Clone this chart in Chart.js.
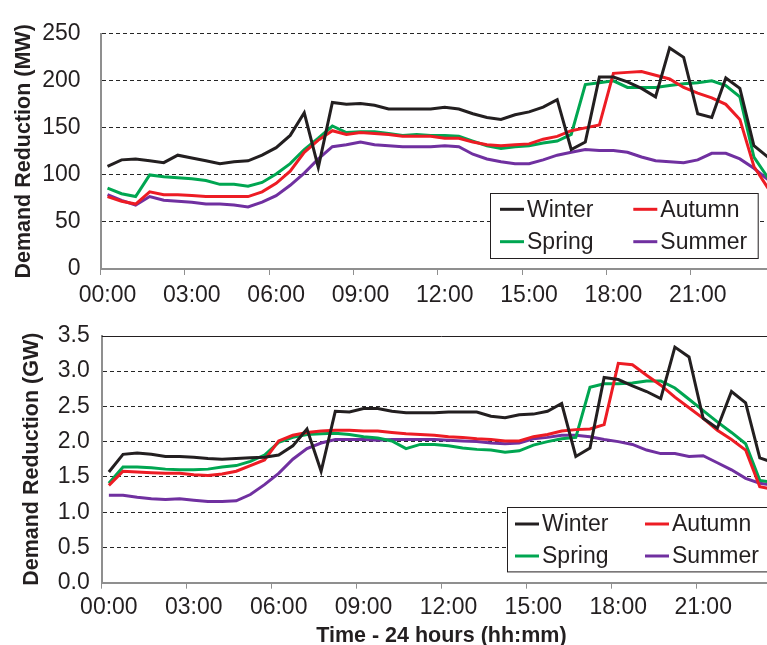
<!DOCTYPE html>
<html>
<head>
<meta charset="utf-8">
<script src="https://cdn.jsdelivr.net/npm/chart.js@4.4.1/dist/chart.umd.min.js"></script>
<style>
  html, body { margin: 0; padding: 0; background: #fff; overflow: hidden; width: 767px; height: 645px; }
  canvas { position: absolute; left: 0; }
  #topChart { top: 0; }
  #bottomChart { top: 310px; }
</style>
</head>
<body>
<canvas id="topChart" width="775" height="310"></canvas>
<canvas id="bottomChart" width="781" height="340"></canvas>
<script>
// half-hour slots of the day
const timeSlots = [
  '00:00','00:30','01:00','01:30','02:00','02:30','03:00','03:30','04:00','04:30','05:00','05:30',
  '06:00','06:30','07:00','07:30','08:00','08:30','09:00','09:30','10:00','10:30','11:00','11:30',
  '12:00','12:30','13:00','13:30','14:00','14:30','15:00','15:30','16:00','16:30','17:00','17:30',
  '18:00','18:30','19:00','19:30','20:00','20:30','21:00','21:30','22:00','22:30','23:00','23:30'
];
const seasons = ['Winter', 'Autumn', 'Spring', 'Summer'];
const seasonColors = ['#231f20', '#ed1c24', '#00a651', '#7030a0'];

// top panel, MW
const winterMW = [109,116,117,115,113,121,118,115,112,114,115,121,129,142,166,108,177,175,176,174,170,170,170,170,
                  172,170,165,161,159,164,167,172,180,127,135,204,204,199,192,183,235,225,165,161,203,192,131,119];
const autumnMW = [77,72,69,82,79,79,78,77,77,77,77,82,91,104,124,137,147,143,145,144,143,141,141,141,
                  139,139,135,132,131,132,133,138,141,147,150,153,208,209,210,206,202,193,187,182,175,159,109,86];
const springMW = [86,80,77,100,98,97,96,94,90,90,88,92,101,112,127,139,152,145,146,146,144,142,143,142,
                  142,141,136,131,128,130,131,134,136,143,196,198,200,193,193,193,195,197,198,200,195,183,119,97];
const summerMW = [79,73,68,77,73,72,71,69,69,68,66,71,78,89,102,117,130,132,135,132,131,130,130,130,
                  131,130,122,117,114,112,112,116,121,124,127,126,126,124,119,115,114,113,116,123,123,117,107,95];

// bottom panel, GW
const winterGW = [1.57,1.82,1.84,1.82,1.79,1.79,1.78,1.76,1.75,1.76,1.77,1.78,1.81,1.94,2.18,1.58,2.43,2.42,2.47,2.47,2.43,2.41,2.41,2.41,
                  2.42,2.42,2.42,2.36,2.34,2.38,2.39,2.43,2.54,1.79,1.91,2.91,2.88,2.79,2.71,2.61,3.34,3.20,2.33,2.19,2.71,2.55,1.77,1.70];
const autumnGW = [1.38,1.58,1.57,1.56,1.55,1.55,1.53,1.52,1.54,1.58,1.66,1.74,2.01,2.09,2.13,2.15,2.16,2.16,2.15,2.15,2.13,2.11,2.10,2.09,
                  2.07,2.06,2.04,2.03,2.01,2.01,2.07,2.10,2.15,2.17,2.18,2.24,3.11,3.09,2.94,2.80,2.63,2.48,2.33,2.16,2.03,1.88,1.36,1.32];
const springGW = [1.41,1.64,1.64,1.63,1.61,1.60,1.60,1.61,1.64,1.66,1.72,1.81,1.99,2.06,2.10,2.11,2.12,2.10,2.07,2.05,2.01,1.90,1.96,1.96,
                  1.94,1.91,1.89,1.88,1.85,1.87,1.95,2.00,2.04,2.06,2.77,2.82,2.82,2.83,2.86,2.86,2.76,2.60,2.44,2.28,2.13,1.97,1.45,1.42];
const summerGW = [1.24,1.24,1.21,1.19,1.18,1.19,1.17,1.15,1.15,1.16,1.25,1.39,1.55,1.75,1.90,1.98,2.03,2.03,2.03,2.02,2.03,2.03,2.03,2.03,
                  2.02,2.01,2.00,1.98,1.97,1.98,2.04,2.06,2.09,2.09,2.07,2.03,2.00,1.96,1.88,1.83,1.83,1.79,1.80,1.70,1.60,1.48,1.41,1.38];

const mwTicks = { min: 0, max: 250, step: 50 };
const gwTicks = { min: 0, max: 3.5, step: 0.5 };

Chart.defaults.font.family = '"Liberation Sans", Arial, sans-serif';
Chart.defaults.color = '#231f20';

const TEXT = '#231f20';
const AXIS_GREY = '#8f8f8f';
const GRID_DASH = [4, 3];

// legend drawn as a framed box inside the plot
const boxLegend = {
  id: 'boxLegend',
  afterDatasetsDraw(chart, args, o) {
    const ctx = chart.ctx, area = chart.chartArea;
    const x0 = area.left + o.dx, y0 = area.bottom - o.dy;
    ctx.save();
    ctx.fillStyle = '#fff';
    ctx.fillRect(x0, y0, o.w, o.h);
    ctx.strokeStyle = TEXT;
    ctx.lineWidth = 1;
    ctx.strokeRect(Math.round(x0) + 0.5, Math.round(y0) + 0.5, o.w, o.h);
    ctx.font = '23px "Liberation Sans", Arial, sans-serif';
    ctx.textBaseline = 'middle';
    chart.data.datasets.forEach((ds, i) => {
      const lx = x0 + o.pad + (i % 2) * o.colW;
      const ly = y0 + o.rows[Math.floor(i / 2)];
      ctx.strokeStyle = ds.borderColor;
      ctx.lineWidth = 3;
      ctx.beginPath();
      ctx.moveTo(lx, ly);
      ctx.lineTo(lx + 24, ly);
      ctx.stroke();
      ctx.fillStyle = TEXT;
      ctx.fillText(ds.label, lx + 27, ly + 1);
    });
    ctx.restore();
  }
};

// solid frame line along the top of the plot (bottom panel only)
const topFrame = {
  id: 'topFrame',
  beforeDatasetsDraw(chart, args, o) {
    if (!o.show) return;
    const ctx = chart.ctx, y = chart.scales.y;
    const py = Math.round(y.getPixelForValue(y.max)) + 0.5;
    ctx.save();
    ctx.setLineDash([]);
    ctx.strokeStyle = TEXT;
    ctx.lineWidth = 1;
    ctx.beginPath();
    ctx.moveTo(chart.chartArea.left, py);
    ctx.lineTo(chart.chartArea.right, py);
    ctx.stroke();
    ctx.restore();
  }
};

function makePanel(id, series, yt, opts) {
  return new Chart(document.getElementById(id), {
    type: 'line',
    data: {
      labels: timeSlots,
      datasets: series.map((d, i) => ({
        label: seasons[i],
        data: d,
        borderColor: seasonColors[i],
        backgroundColor: seasonColors[i],
        borderWidth: 3,
        pointRadius: 0,
        tension: 0,
        fill: false
      }))
    },
    options: {
      responsive: false,
      animation: false,
      events: [],
      layout: { padding: { top: opts.padTop, left: 0, right: 0, bottom: 0 } },
      plugins: {
        legend: { display: false },
        tooltip: { enabled: false },
        boxLegend: opts.legend,
        topFrame: { show: opts.solidTop }
      },
      scales: {
        x: {
          type: 'category',
          offset: true,
          afterFit: s => { s.height = opts.xHeight; },
          grid: {
            offset: true,
            drawOnChartArea: false,
            drawTicks: true,
            tickLength: 6,
            lineWidth: 1,
            color: c => (c.index % 6 === 0 ? AXIS_GREY : 'rgba(0,0,0,0)')
          },
          border: { display: true, color: AXIS_GREY, width: 2 },
          ticks: {
            autoSkip: false,
            maxRotation: 0,
            minRotation: 0,
            padding: opts.xPad,
            color: TEXT,
            font: { size: 23 },
            callback: function (v, i) { return i % 6 === 0 ? this.getLabelForValue(v) : ''; }
          },
          title: {
            display: !!opts.xTitle,
            text: opts.xTitle || '',
            color: TEXT,
            font: { size: 21.5, weight: 'bold' },
            padding: { top: 0, bottom: 1.4 }
          }
        },
        y: {
          min: yt.min,
          max: yt.max,
          afterFit: s => { s.width = opts.yWidth; },
          ticks: {
            stepSize: yt.step,
            padding: opts.yPad,
            color: TEXT,
            font: { size: 23 },
            callback: v => (yt.step < 1 ? v.toFixed(1) : v)
          },
          grid: {
            drawTicks: false,
            lineWidth: 1,
            borderDash: GRID_DASH,
            color: c => {
              if (c.tick.value === yt.min) return 'rgba(0,0,0,0)';
              if (opts.solidTop && c.tick.value === yt.max) return 'rgba(0,0,0,0)';
              return '#262626';
            }
          },
          border: {
            display: true,
            color: AXIS_GREY,
            width: 2,
            dash: GRID_DASH,
            dashOffset: 0
          },
          title: {
            display: true,
            text: opts.yTitle,
            color: TEXT,
            font: { size: 21.5, weight: 'bold' },
            padding: { top: opts.yTitleOffset, bottom: 0 }
          }
        }
      }
    },
    plugins: [topFrame, boxLegend]
  });
}

makePanel('topChart', [winterMW, autumnMW, springMW, summerMW], mwTicks, {
  padTop: 17,
  xHeight: 41,
  xPad: 7,
  yWidth: 100.5,
  yPad: 20,
  yTitle: 'Demand Reduction (MW)',
  yTitleOffset: 11,
  solidTop: false,
  legend: { dx: 389.5, dy: 75.7, w: 267.7, h: 65, pad: 10, colW: 133.3, rows: [16, 48.4] }
});

makePanel('bottomChart', [winterGW, autumnGW, springGW, summerGW], gwTicks, {
  padTop: 15,
  xHeight: 67.3,
  xPad: 5,
  xTitle: 'Time - 24 hours (hh:mm)',
  yWidth: 101.8,
  yPad: 12,
  yTitle: 'Demand Reduction (GW)',
  yTitleOffset: 19,
  solidTop: true,
  legend: { dx: 404.9, dy: 75.4, w: 268, h: 64.4, pad: 8.3, colW: 130, rows: [16.7, 48.7] }
});
</script>
</body>
</html>
